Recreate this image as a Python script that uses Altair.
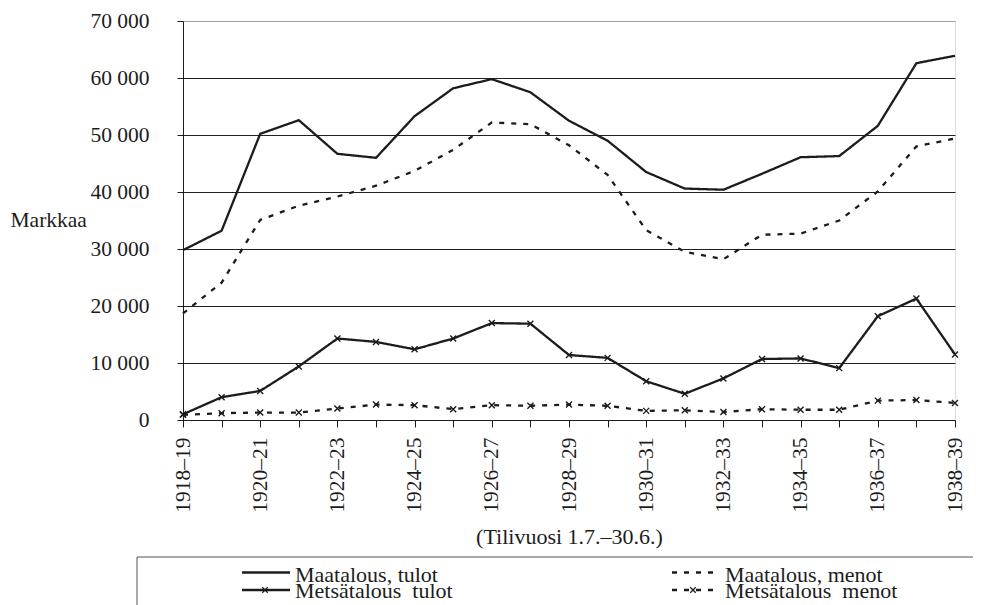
import altair as alt
import pandas as pd

years = ["1918–19", "1919–20", "1920–21", "1921–22", "1922–23", "1923–24", "1924–25",
         "1925–26", "1926–27", "1927–28", "1928–29", "1929–30", "1930–31", "1931–32",
         "1932–33", "1933–34", "1934–35", "1935–36", "1936–37", "1937–38", "1938–39"]

maatalous_tulot = [29800, 33200, 50200, 52600, 46700, 46000, 53300, 58200, 59800, 57500, 52500,
                   49000, 43500, 40600, 40400, 43200, 46100, 46300, 51600, 62600, 63900]
maatalous_menot = [18700, 24100, 35100, 37600, 39200, 41100, 43700, 47400, 52200, 51900, 48200,
                   43000, 33300, 29500, 28200, 32500, 32700, 35000, 40100, 48000, 49400]
metsatalous_tulot = [1000, 4000, 5100, 9400, 14300, 13700, 12400, 14300, 17000, 16900, 11400,
                     10900, 6800, 4600, 7300, 10700, 10800, 9100, 18200, 21300, 11500]
metsatalous_menot = [900, 1200, 1300, 1300, 2000, 2700, 2600, 1900, 2600, 2500, 2700,
                     2500, 1600, 1700, 1400, 1900, 1800, 1800, 3400, 3500, 3000]

series_names = ["Maatalous, tulot", "Maatalous, menot", "Metsätalous tulot", "Metsätalous menot"]
series_values = [maatalous_tulot, maatalous_menot, metsatalous_tulot, metsatalous_menot]

rows = []
for name, vals in zip(series_names, series_values):
    for y, v in zip(years, vals):
        rows.append({"year": y, "value": v, "series": name})
df = pd.DataFrame(rows)

FONT = "Liberation Serif"
INK = "#1c1c1c"
XSHAPE = "M-1,-1L1,1M-1,1L1,-1"
SOLID = [1, 0]
DASH = [5, 7]

x_enc = alt.X(
    "year:N", sort=years,
    scale=alt.Scale(type="point", padding=0),
    axis=alt.Axis(
        labelAngle=-90,
        labelExpr="toNumber(substring(datum.label, 0, 4)) % 2 == 0 ? datum.label : ''",
        tickSize=7, labelPadding=10, tickColor=INK, domainColor=INK,
        labelFont=FONT, labelFontSize=21.5, labelColor=INK,
        title="(Tilivuosi 1.7.–30.6.)", titleFont=FONT, titleFontSize=22,
        titleFontWeight="normal", titleColor=INK, titleY=123, titleBaseline="alphabetic",
        grid=False,
    ),
)
y_enc = alt.Y(
    "value:Q",
    scale=alt.Scale(domain=[0, 70000], nice=False),
    axis=alt.Axis(
        values=list(range(0, 70001, 10000)),
        labelExpr="replace(format(datum.value, ','), ',', ' ')",
        tickSize=6, labelPadding=28, tickColor=INK, domainColor=INK,
        labelFont=FONT, labelFontSize=21.5, labelColor=INK,
        title="Markkaa", titleFont=FONT, titleFontSize=21.5, titleFontWeight="normal",
        titleColor=INK, titleAngle=0, titleAlign="left", titleBaseline="middle",
        titleX=-173, titleY=199.5,
        grid=True, gridWidth=1,
        gridColor={"condition": {"test": "datum.value >= 70000", "value": "#a0a0a0"}, "value": "#222222"},
    ),
)

base = alt.Chart(df)

lines = base.mark_line(color=INK, strokeWidth=2.3).encode(
    x=x_enc, y=y_enc,
    strokeDash=alt.StrokeDash("series:N",
                              scale=alt.Scale(domain=series_names, range=[SOLID, DASH, SOLID, DASH]),
                              legend=None),
)

points = base.mark_point(shape=XSHAPE, filled=False, size=36, strokeWidth=1.4, color=INK, opacity=1).encode(
    x=x_enc, y=y_enc,
).transform_filter(
    alt.FieldOneOfPredicate(field="series", oneOf=["Metsätalous tulot", "Metsätalous menot"])
)

one = pd.DataFrame({"k": [0]})


def legend_item(x0, x1, y_line, y_text, label, dash, marker_x=None):
    parts = [
        alt.Chart(one).mark_rule(color=INK, strokeWidth=2.4, strokeDash=dash).encode(
            x=alt.value(x0), x2=alt.value(x1), y=alt.value(y_line)),
        alt.Chart(one).mark_text(text=label, font=FONT, fontSize=22, color=INK,
                                 align="left", baseline="alphabetic").encode(
            x=alt.value(x1 + 5), y=alt.value(y_text)),
    ]
    if marker_x is not None:
        parts.append(alt.Chart(one).mark_point(shape=XSHAPE, filled=False, size=30, strokeWidth=1.3,
                                               color=INK, opacity=1).encode(
            x=alt.value(marker_x), y=alt.value(y_line)))
    return parts


legend_layers = [
    alt.Chart(one).mark_rule(color="#555555", strokeWidth=1).encode(
        x=alt.value(-46), x2=alt.value(790), y=alt.value(536)),
    alt.Chart(one).mark_rule(color="#555555", strokeWidth=1).encode(
        x=alt.value(-46), y=alt.value(536), y2=alt.value(584)),
]
legend_layers += legend_item(59, 107, 551.5, 561, "Maatalous, tulot", SOLID)
legend_layers += legend_item(59, 107, 569, 577, "Metsätalous\u00a0 tulot", SOLID, marker_x=82)
legend_layers += legend_item(489, 537, 551.5, 561, "Maatalous, menot", DASH)
legend_layers += legend_item(489, 537, 569, 577, "Metsätalous\u00a0 menot", DASH, marker_x=510)

chart = alt.layer(lines, points, *legend_layers).properties(
    width=772, height=399,
    padding={"left": 175, "top": 13, "right": 20, "bottom": 185},
    autosize=alt.AutoSizeParams(type="none"),
).configure_view(stroke="#a0a0a0", strokeWidth=1).configure(background="white")

chart.save("out.html", embed_options={"renderer": "svg", "actions": False})
